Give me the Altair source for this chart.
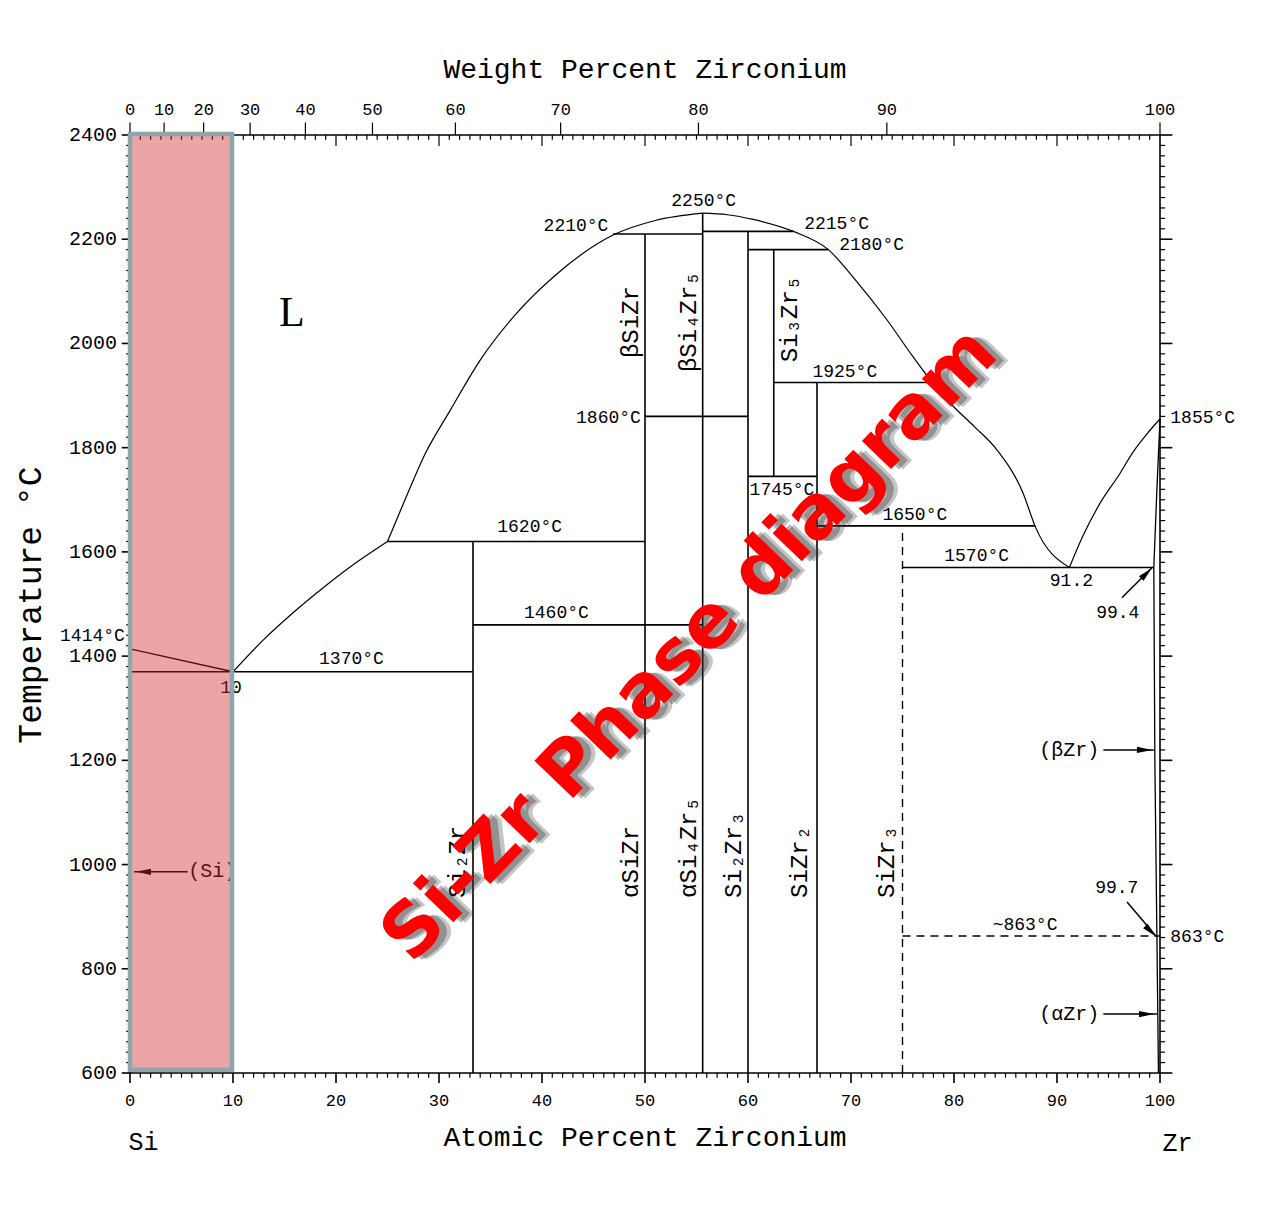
import altair as alt
import pandas as pd

FONT = "Liberation Mono, DejaVu Sans Mono"

# ---------------- phase boundary curves (at.% Zr, deg C) ----------------
si_liq_x = [0, 10]
si_liq_t = [1414, 1370]
liq_a_x = [10, 13, 16, 19, 22, 25]
liq_a_t = [1370, 1432, 1486, 1535, 1580, 1620]
liq_b_x = [25, 26.7, 28.6, 31.1, 34.0, 37.4, 41.3, 46.9, 51.0, 55.6]
liq_b_t = [1620, 1700, 1786, 1872, 1968, 2055, 2131, 2208, 2236, 2250]
liq_c_x = [55.6, 58, 60.5, 64.4, 67.8, 70.5, 73.5, 76.0, 77.9, 79.9, 82.0, 84.2, 86.7, 87.9, 91.2]
liq_c_t = [2250, 2247, 2238, 2215, 2180, 2120, 2045, 1975, 1925, 1880, 1840, 1795, 1713, 1648, 1570]
liq_d_x = [91.2, 92.5, 94.2, 96.0, 97.4, 98.8, 100]
liq_d_t = [1570, 1630, 1694, 1747, 1792, 1828, 1855]
zr1_x = [100, 99.7, 99.4]
zr1_t = [1855, 1720, 1570]
zr2_x = [99.4, 99.5, 99.7]
zr2_t = [1570, 1200, 863]
zr3_x = [99.7, 99.85]
zr3_t = [863, 600]

smooth_curves = [liq_a_x, liq_b_x, liq_c_x, liq_d_x]
smooth_curves_t = [liq_a_t, liq_b_t, liq_c_t, liq_d_t]
straight_curves = [si_liq_x, zr1_x, zr2_x, zr3_x]
straight_curves_t = [si_liq_t, zr1_t, zr2_t, zr3_t]

# ---------------- straight phase lines ----------------
seg_x1 = [0, 25, 33.3, 50, 46.9, 55.6, 60, 62.5, 60, 66.7, 75,
          33.3, 50, 55.6, 60, 62.5, 66.7]
seg_t1 = [1370, 1620, 1460, 1860, 2210, 2215, 2180, 1925, 1745, 1650, 1570,
          600, 600, 600, 600, 1745, 600]
seg_x2 = [33.3, 50, 55.6, 60, 55.6, 64.4, 67.8, 77.9, 66.7, 87.9, 99.4,
          33.3, 50, 55.6, 60, 62.5, 66.7]
seg_t2 = [1370, 1620, 1460, 1860, 2210, 2215, 2180, 1925, 1745, 1650, 1570,
          1620, 2210, 2250, 2215, 2180, 1925]

dash_x1 = [75, 75]
dash_t1 = [600, 863]
dash_x2 = [75, 100]
dash_t2 = [1640, 863]

# arrows
arr_x1 = [5.6, 94.5, 94.5, 96.3, 96.8]
arr_t1 = [986, 1220, 713, 1512, 928]
arr_x2 = [0.4, 99.4, 99.7, 99.2, 99.6]
arr_t2 = [986, 1220, 713, 1569, 863]
head_x = [1.3, 98.5, 98.7, 98.7, 99.1]
head_t = [986, 1220, 713, 1559, 872]
head_ang = [180, 0, 0, 315, 45]

# ---------------- labels ----------------
c_text = ["2210°C", "2250°C", "2215°C", "2180°C", "1925°C", "1745°C", "1650°C",
          "1620°C", "1570°C", "91.2", "1460°C", "1370°C", "10", "~863°C", "99.4", "99.7"]
c_x = [43.3, 55.7, 68.6, 72.0, 69.4, 63.3, 76.2, 38.8, 82.2, 91.4, 41.4, 21.5, 9.8, 86.9, 95.9, 95.8]
c_t = [2225, 2273, 2229, 2189, 1945, 1719, 1671, 1648, 1592, 1544, 1483, 1394, 1339, 884, 1483, 955]

l_text = ["1855°C", "863°C", "(Si)"]
l_x = [101.0, 101.0, 5.65]
l_t = [1857, 861, 988]
l_size = [18, 18, 20]

r_text = ["1860°C", "1414°C", "(βZr)", "(αZr)"]
r_x = [49.6, -0.5, 94.1, 94.1]
r_t = [1857, 1439, 1220, 713]
r_size = [18, 18, 20, 20]

rot_text = ["βSiZr", "βSi₄Zr₅", "Si₃Zr₅", "Si₂Zr", "αSiZr", "αSi₄Zr₅", "Si₂Zr₃", "SiZr₂", "SiZr₃"]
rot_x = [48.6, 54.3, 64.1, 31.8, 48.6, 54.3, 58.6, 65.0, 73.5]
rot_t = [1972, 1945, 1964, 936, 936, 936, 936, 936, 936]

# axis tick labels
at_ticks = [0, 10, 20, 30, 40, 50, 60, 70, 80, 90, 100]
temp_ticks = [600, 800, 1000, 1200, 1400, 1600, 1800, 2000, 2200, 2400]
wt_labels = ["0", "10", "20", "30", "40", "50", "60", "70", "80", "90", "100"]
wt_at = [0, 3.31, 7.15, 11.66, 17.03, 23.54, 31.59, 41.81, 55.19, 73.48, 100]

X = alt.Scale(domain=[0, 100], nice=False, zero=False)
Y = alt.Scale(domain=[600, 2400], nice=False, zero=False)


def xe(f):
    return alt.X(f, type="quantitative", scale=X, axis=None, title=None)


def ye(f):
    return alt.Y(f, type="quantitative", scale=Y, axis=None, title=None)


def curve_frame(xs_list, ts_list):
    rows = []
    for ci, (cx, ct) in enumerate(zip(xs_list, ts_list)):
        for k, (a, b) in enumerate(zip(cx, ct)):
            rows.append({"c": ci, "o": k, "x": a, "t": b})
    return pd.DataFrame(rows)


seg_df = pd.DataFrame({"x": seg_x1, "t": seg_t1, "x2": seg_x2, "t2": seg_t2})
segs = alt.Chart(seg_df).mark_rule(color="black", strokeWidth=1.6).encode(
    x=xe("x"), x2="x2", y=ye("t"), y2="t2")

dash_df = pd.DataFrame({"x": dash_x1, "t": dash_t1, "x2": dash_x2, "t2": dash_t2})
dashes = alt.Chart(dash_df).mark_rule(color="black", strokeWidth=1.4, strokeDash=[8, 6]).encode(
    x=xe("x"), x2="x2", y=ye("t"), y2="t2")

smooth = alt.Chart(curve_frame(smooth_curves, smooth_curves_t)).mark_line(
    color="black", strokeWidth=1.2, interpolate="monotone").encode(
    x=xe("x"), y=ye("t"), detail="c:N", order="o:Q")
straight = alt.Chart(curve_frame(straight_curves, straight_curves_t)).mark_line(
    color="black", strokeWidth=1.3).encode(
    x=xe("x"), y=ye("t"), detail="c:N", order="o:Q")

arr_df = pd.DataFrame({"x": arr_x1, "t": arr_t1, "x2": arr_x2, "t2": arr_t2})
arrows = alt.Chart(arr_df).mark_rule(color="black", strokeWidth=1.5).encode(
    x=xe("x"), x2="x2", y=ye("t"), y2="t2")
head_df = pd.DataFrame({"x": head_x, "t": head_t, "a": head_ang})
heads = alt.Chart(head_df).mark_point(shape="M1,0L-1,-0.42L-1,0.42Z", filled=True,
                                      color="black", opacity=1, size=230).encode(
    x=xe("x"), y=ye("t"), angle=alt.Angle("a:Q", scale=None))

# ---- frame and ticks ----
frame_df = pd.DataFrame({"x": [0, 0, 0, 100], "x2": [100, 100, 0, 100],
                         "t": [2400, 600, 600, 600], "t2": [2400, 600, 2400, 2400]})
frame = alt.Chart(frame_df).mark_rule(color="black", strokeWidth=1.6).encode(
    x=xe("x"), x2="x2", y=ye("t"), y2="t2")

minor_at = [i for i in range(1, 100) if i % 10 != 0]
top_minor = pd.DataFrame({"x": minor_at})
top_minor["t"], top_minor["t2"] = 2400, 2391
top_mid = pd.DataFrame({"x": list(range(10, 100, 10))})
top_mid["t"], top_mid["t2"] = 2400, 2379
top_major = pd.DataFrame({"x": wt_at})
top_major["t"], top_major["t2"] = 2400, 2424
bot_minor = pd.DataFrame({"x": minor_at})
bot_minor["t"], bot_minor["t2"] = 600, 591
bot_major = pd.DataFrame({"x": at_ticks})
bot_major["t"], bot_major["t2"] = 600, 581
tick_x = pd.concat([top_minor, top_mid, top_major, bot_minor])
xticks = alt.Chart(tick_x).mark_rule(color="black", strokeWidth=1.2).encode(
    x=xe("x"), y=ye("t"), y2="t2")
xticks_major = alt.Chart(bot_major).mark_rule(color="black", strokeWidth=1.6).encode(
    x=xe("x"), y=ye("t"), y2="t2")

minor_t = [v for v in range(620, 2400, 20) if v % 200 != 0]
left_minor = pd.DataFrame({"t": minor_t})
left_minor["x"], left_minor["x2"] = 0, -0.38
right_minor = pd.DataFrame({"t": minor_t})
right_minor["x"], right_minor["x2"] = 100, 100.5
right_major = pd.DataFrame({"t": temp_ticks})
right_major["x"], right_major["x2"] = 100, 101.2
left_major = pd.DataFrame({"t": temp_ticks})
left_major["x"], left_major["x2"] = 0, -0.8
tick_y = pd.concat([left_minor, right_minor])
yticks = alt.Chart(tick_y).mark_rule(color="black", strokeWidth=1.2).encode(
    x=xe("x"), x2="x2", y=ye("t"))
yticks_major = alt.Chart(pd.concat([right_major, left_major])).mark_rule(
    color="black", strokeWidth=1.6).encode(x=xe("x"), x2="x2", y=ye("t"))

# tick labels
bl_df = pd.DataFrame({"x": at_ticks, "t": [546] * len(at_ticks), "s": [str(v) for v in at_ticks]})
blabels = alt.Chart(bl_df).mark_text(font=FONT, fontSize=17, color="black",
                                     align="center", baseline="middle").encode(
    x=xe("x"), y=ye("t"), text="s:N")
ll_df = pd.DataFrame({"x": [-1.25] * len(temp_ticks), "t": temp_ticks,
                      "s": [str(v) for v in temp_ticks]})
llabels = alt.Chart(ll_df).mark_text(font=FONT, fontSize=20, color="black",
                                     align="right", baseline="middle").encode(
    x=xe("x"), y=ye("t"), text="s:N")
wt_df = pd.DataFrame({"x": wt_at, "t": [2448] * len(wt_at), "s": wt_labels})
wttext = alt.Chart(wt_df).mark_text(font=FONT, fontSize=17, color="black",
                                    align="center", baseline="middle").encode(
    x=xe("x"), y=ye("t"), text="s:N")

# texts
c_df = pd.DataFrame({"x": c_x, "t": c_t, "s": c_text})
ctext = alt.Chart(c_df).mark_text(font=FONT, fontSize=18, color="black",
                                  align="center", baseline="middle").encode(
    x=xe("x"), y=ye("t"), text="s:N")
l_df = pd.DataFrame({"x": l_x, "t": l_t, "s": l_text, "z": l_size})
ltext = alt.Chart(l_df).mark_text(font=FONT, color="black", align="left",
                                  baseline="middle").encode(
    x=xe("x"), y=ye("t"), text="s:N", size=alt.Size("z:Q", scale=None))
r_df = pd.DataFrame({"x": r_x, "t": r_t, "s": r_text, "z": r_size})
rtext = alt.Chart(r_df).mark_text(font=FONT, color="black", align="right",
                                  baseline="middle").encode(
    x=xe("x"), y=ye("t"), text="s:N", size=alt.Size("z:Q", scale=None))
rot_df = pd.DataFrame({"x": rot_x, "t": rot_t, "s": rot_text})
rottext = alt.Chart(rot_df).mark_text(font=FONT, fontSize=24, color="black", angle=270,
                                      align="left", baseline="middle").encode(
    x=xe("x"), y=ye("t"), text="s:N")

L_df = pd.DataFrame({"x": [15.7], "t": [2058], "s": ["L"]})
Ltext = alt.Chart(L_df).mark_text(font="Liberation Serif", fontSize=42, color="black",
                                  align="center", baseline="middle").encode(
    x=xe("x"), y=ye("t"), text="s:N")

title_df = pd.DataFrame({"x": [50, 50, 1.3, 101.7], "t": [2525, 475, 468, 466],
                         "s": ["Weight Percent Zirconium", "Atomic Percent Zirconium", "Si", "Zr"],
                         "z": [28, 28, 25, 25]})
titles = alt.Chart(title_df).mark_text(font=FONT, color="black", align="center",
                                       baseline="middle").encode(
    x=xe("x"), y=ye("t"), text="s:N", size=alt.Size("z:Q", scale=None))
ytitle_df = pd.DataFrame({"x": [-9.6], "t": [1498], "s": ["Temperature °C"]})
ytitle = alt.Chart(ytitle_df).mark_text(font=FONT, fontSize=33, color="black", angle=270,
                                        align="center", baseline="middle").encode(
    x=xe("x"), y=ye("t"), text="s:N")

# pink overlay box
box_df = pd.DataFrame({"x": [0], "x2": [9.9], "t": [606], "t2": [2402]})
box = alt.Chart(box_df).mark_rect(fill="#d22828", fillOpacity=0.42, stroke="#8ea6ab",
                                  strokeWidth=4.5, strokeOpacity=1).encode(
    x=xe("x"), x2="x2", y=ye("t"), y2="t2")

# watermark
wm_df = pd.DataFrame({"x": [54.4], "t": [1421], "s": ["Si-Zr Phase diagram"]})
wm_shadow1 = alt.Chart(wm_df).mark_text(font="DejaVu Sans", fontWeight="bold", fontSize=74,
                                        angle=314, color="#333333", opacity=0.28,
                                        align="center", baseline="middle", dx=8, dy=9).encode(
    x=xe("x"), y=ye("t"), text="s:N")
wm_shadow2 = alt.Chart(wm_df).mark_text(font="DejaVu Sans", fontWeight="bold", fontSize=74,
                                        angle=314, color="#333333", opacity=0.35,
                                        align="center", baseline="middle", dx=5, dy=6).encode(
    x=xe("x"), y=ye("t"), text="s:N")
wm = alt.Chart(wm_df).mark_text(font="DejaVu Sans", fontWeight="bold", fontSize=74,
                                angle=314, color="#ff0000",
                                align="center", baseline="middle").encode(
    x=xe("x"), y=ye("t"), text="s:N")

chart = alt.layer(
    segs, dashes, smooth, straight, arrows, heads, frame, xticks, xticks_major, yticks,
    yticks_major, blabels, llabels, wttext,
    ctext, ltext, rtext, rottext, Ltext, titles, ytitle,
    box, wm_shadow1, wm_shadow2, wm
).properties(
    width=1030, height=938,
    padding={"left": 122, "top": 127, "right": 100, "bottom": 120},
    autosize=alt.AutoSizeParams(type="none"),
    background="white",
).configure_view(stroke=None)

chart.save("out.html", embed_options={"renderer": "svg", "actions": False})
